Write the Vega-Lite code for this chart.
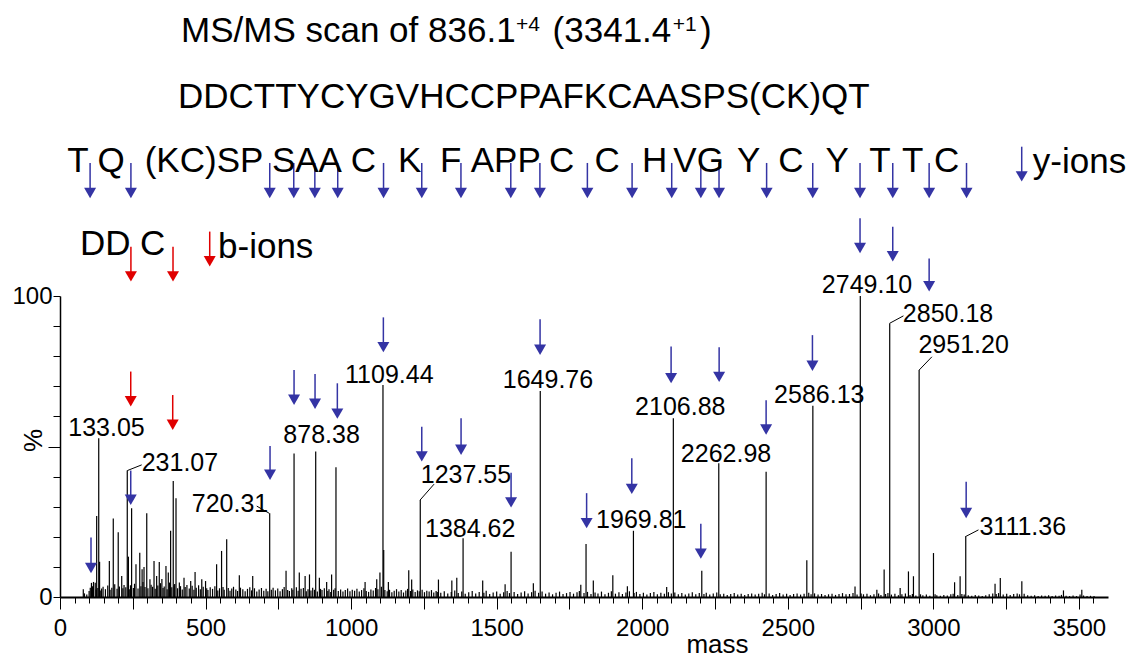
{
  "$schema": "https://vega.github.io/schema/vega-lite/v6.json",
  "width": 1048,
  "height": 301,
  "autosize": {"type": "none"},
  "padding": {"left": 60, "top": 296, "right": 21, "bottom": 63},
  "background": "white",
  "config": {"view": {"stroke": null}, "font": "Liberation Sans", "axis": {"grid": false}},
  "resolve": {"axis": {"x": "independent", "y": "independent"}},
  "datasets": {
    "peaks": [
      {"m":80,"i":2.6},{"m":108,"i":4.7},{"m":115,"i":5},{"m":121,"i":4.7},{"m":126,"i":26.9},{"m":133.05,"i":52.7},{"m":136,"i":11.7},{"m":143,"i":2.8},{"m":169.5,"i":12},{"m":183,"i":26.1},{"m":200,"i":21.5},{"m":212,"i":7},{"m":231.07,"i":42},{"m":235,"i":13.4},{"m":246,"i":29.5},{"m":261,"i":10.9},{"m":274,"i":14.7},{"m":282,"i":9.2},{"m":288.6,"i":10},{"m":298,"i":27.8},{"m":309,"i":5.9},{"m":323,"i":12},{"m":332,"i":7},{"m":341,"i":11.6},{"m":350,"i":6},{"m":364,"i":10.3},{"m":372,"i":8.1},{"m":380,"i":22},{"m":389,"i":38.5},{"m":398.5,"i":32.8},{"m":410,"i":4.8},{"m":426,"i":6.4},{"m":449,"i":5.3},{"m":464,"i":8.3},{"m":487,"i":5.9},{"m":500,"i":5.3},{"m":538,"i":10.9},{"m":555,"i":15.3},{"m":572.6,"i":19.2},{"m":616,"i":7.2},{"m":662,"i":7},{"m":720.31,"i":27.8},{"m":776.5,"i":8.7},{"m":804,"i":47.7},{"m":822,"i":8.1},{"m":842,"i":7},{"m":857,"i":7.5},{"m":878.38,"i":48.3},{"m":891,"i":6.4},{"m":916,"i":5},{"m":933,"i":7.5},{"m":948,"i":43.1},{"m":1048,"i":5},{"m":1088,"i":5.9},{"m":1099,"i":8.1},{"m":1109.44,"i":70.4},{"m":1128,"i":5},{"m":1198,"i":8.9},{"m":1208,"i":5.8},{"m":1237.55,"i":32.2},{"m":1300,"i":5.8},{"m":1346,"i":5.5},{"m":1363,"i":6.4},{"m":1384.62,"i":19.5},{"m":1452,"i":5.5},{"m":1529,"i":4.2},{"m":1549.5,"i":15},{"m":1626,"i":4.6},{"m":1649.76,"i":68.4},{"m":1789,"i":4.1},{"m":1807,"i":17.6},{"m":1832,"i":5.5},{"m":1899,"i":7.2},{"m":1949,"i":3.6},{"m":1969.81,"i":22},{"m":2084,"i":3.3},{"m":2106.88,"i":59.4},{"m":2204.6,"i":8.7},{"m":2262.98,"i":44.4},{"m":2425.6,"i":41.6},{"m":2565.4,"i":12.2},{"m":2586.13,"i":63.5},{"m":2731,"i":3.5},{"m":2749.1,"i":100},{"m":2806,"i":2.4},{"m":2831,"i":9.1},{"m":2850.18,"i":90.9},{"m":2886,"i":3},{"m":2914.5,"i":8.5},{"m":2931.7,"i":6.9},{"m":2951.2,"i":75.4},{"m":3000.5,"i":14.6},{"m":3073,"i":4.9},{"m":3092,"i":6.9},{"m":3111.36,"i":20},{"m":3212,"i":4.4},{"m":3230,"i":6.3},{"m":3304,"i":5.2},{"m":3447,"i":2.2},{"m":3510,"i":2.4},
      {"m":84,"i":1.2},{"m":92,"i":0.8},{"m":100,"i":2.0},{"m":104,"i":3.1},{"m":112,"i":3.6},{"m":124,"i":2.5},{"m":130,"i":3.0},{"m":140,"i":2.2},{"m":148,"i":3.4},{"m":156,"i":2.6},{"m":164,"i":3.8},{"m":172,"i":2.4},{"m":178,"i":3.1},{"m":188,"i":4.2},{"m":196,"i":2.7},{"m":204,"i":3.5},{"m":216,"i":2.9},{"m":220,"i":4.0},{"m":226,"i":3.2},{"m":238,"i":2.6},{"m":242,"i":3.9},{"m":252,"i":3.0},{"m":256,"i":4.4},{"m":268,"i":2.8},{"m":278,"i":3.6},{"m":285,"i":5.0},{"m":292,"i":3.3},{"m":302,"i":2.9},{"m":313,"i":4.1},{"m":318,"i":3.4},{"m":327,"i":2.7},{"m":336,"i":3.8},{"m":345,"i":4.6},{"m":354,"i":3.0},{"m":358,"i":3.5},{"m":368,"i":2.6},{"m":376,"i":4.8},{"m":384,"i":3.2},{"m":392,"i":3.9},{"m":394,"i":4.3},{"m":404,"i":2.9},{"m":414,"i":3.6},{"m":420,"i":2.5},{"m":430,"i":3.3},{"m":436,"i":4.0},{"m":444,"i":2.8},{"m":454,"i":3.7},{"m":460,"i":2.4},{"m":468,"i":3.1},{"m":476,"i":3.9},{"m":482,"i":2.6},{"m":492,"i":3.4},{"m":504,"i":2.9},{"m":508,"i":2.3},{"m":516,"i":3.2},{"m":524,"i":2.7},{"m":532,"i":3.6},{"m":542,"i":2.2},{"m":548,"i":2.9},{"m":560,"i":3.3},{"m":564,"i":2.4},{"m":578,"i":3.0},{"m":584,"i":2.1},{"m":590,"i":2.8},{"m":596,"i":3.4},{"m":604,"i":2.5},{"m":610,"i":2.0},{"m":620,"i":3.1},{"m":628,"i":2.6},{"m":636,"i":1.9},{"m":644,"i":2.7},{"m":652,"i":3.2},{"m":658,"i":2.2},{"m":668,"i":2.9},{"m":676,"i":1.8},{"m":684,"i":2.5},{"m":692,"i":3.0},{"m":700,"i":2.1},{"m":708,"i":2.7},{"m":714,"i":1.9},{"m":726,"i":2.4},{"m":732,"i":3.1},{"m":740,"i":2.2},{"m":748,"i":2.8},{"m":756,"i":1.9},{"m":764,"i":2.6},{"m":770,"i":3.3},{"m":782,"i":2.3},{"m":788,"i":2.0},{"m":796,"i":2.9},{"m":800,"i":2.4},{"m":812,"i":3.2},{"m":818,"i":2.1},{"m":828,"i":2.7},{"m":836,"i":3.0},{"m":846,"i":1.9},{"m":852,"i":2.6},{"m":862,"i":2.2},{"m":868,"i":3.1},{"m":874,"i":2.4},{"m":884,"i":1.8},{"m":895,"i":2.7},{"m":900,"i":2.3},{"m":908,"i":2.9},{"m":920,"i":2.0},{"m":924,"i":2.6},{"m":930,"i":1.7},{"m":940,"i":2.4},{"m":945,"i":2.9},{"m":956,"i":2.0},{"m":964,"i":2.5},{"m":972,"i":1.8},{"m":980,"i":2.3},{"m":988,"i":2.8},{"m":996,"i":1.9},{"m":1004,"i":2.4},{"m":1012,"i":2.1},{"m":1020,"i":2.7},{"m":1028,"i":1.8},{"m":1036,"i":2.3},{"m":1044,"i":2.9},{"m":1052,"i":2.0},{"m":1060,"i":1.7},{"m":1068,"i":2.5},{"m":1076,"i":2.2},{"m":1084,"i":3.0},{"m":1092,"i":2.6},{"m":1104,"i":3.4},{"m":1112,"i":15.6},{"m":1116,"i":2.3},{"m":1124,"i":1.9},{"m":1132,"i":2.4},{"m":1140,"i":1.6},{"m":1148,"i":2.1},{"m":1156,"i":2.6},{"m":1164,"i":1.8},{"m":1172,"i":2.3},{"m":1180,"i":1.5},{"m":1188,"i":2.2},{"m":1194,"i":2.7},{"m":1204,"i":2.0},{"m":1212,"i":2.5},{"m":1220,"i":1.7},{"m":1228,"i":2.2},{"m":1234,"i":1.9},{"m":1244,"i":2.4},{"m":1252,"i":1.6},{"m":1260,"i":2.1},{"m":1268,"i":1.8},{"m":1276,"i":2.3},{"m":1284,"i":1.5},{"m":1292,"i":2.0},{"m":1296,"i":1.7},
      {"m":1308,"i":1.4},{"m":1320,"i":1.9},{"m":1332,"i":1.2},{"m":1344,"i":1.7},{"m":1356,"i":2.2},{"m":1368,"i":1.3},{"m":1380,"i":1.8},{"m":1392,"i":1.1},{"m":1404,"i":1.6},{"m":1416,"i":2.0},{"m":1428,"i":1.2},{"m":1440,"i":1.7},{"m":1456,"i":1.4},{"m":1464,"i":2.1},{"m":1476,"i":1.0},{"m":1488,"i":1.5},{"m":1500,"i":1.8},{"m":1512,"i":1.1},{"m":1524,"i":1.6},{"m":1536,"i":2.0},{"m":1544,"i":1.3},{"m":1560,"i":1.7},{"m":1572,"i":1.0},{"m":1584,"i":1.5},{"m":1596,"i":1.9},{"m":1608,"i":1.2},{"m":1620,"i":1.6},{"m":1632,"i":2.1},{"m":1644,"i":1.4},{"m":1656,"i":1.8},{"m":1668,"i":1.1},{"m":1680,"i":1.5},{"m":1692,"i":0.9},{"m":1704,"i":1.4},{"m":1716,"i":1.8},{"m":1728,"i":1.0},{"m":1740,"i":1.3},{"m":1752,"i":1.7},{"m":1764,"i":1.1},{"m":1776,"i":1.6},{"m":1784,"i":2.0},{"m":1800,"i":1.3},{"m":1812,"i":1.7},{"m":1824,"i":1.0},{"m":1838,"i":1.5},{"m":1848,"i":1.2},{"m":1860,"i":1.8},{"m":1872,"i":0.9},{"m":1884,"i":1.4},{"m":1894,"i":1.9},{"m":1908,"i":1.1},{"m":1920,"i":1.6},{"m":1932,"i":1.0},{"m":1944,"i":1.5},{"m":1956,"i":1.9},{"m":1972,"i":1.3},{"m":1980,"i":1.7},{"m":1992,"i":1.0},{"m":2004,"i":1.4},{"m":2016,"i":0.8},{"m":2028,"i":1.3},{"m":2040,"i":1.7},{"m":2052,"i":0.9},{"m":2064,"i":1.4},{"m":2076,"i":1.1},{"m":2090,"i":1.6},{"m":2100,"i":1.2},{"m":2112,"i":1.5},{"m":2124,"i":0.9},{"m":2136,"i":1.3},{"m":2148,"i":0.8},{"m":2160,"i":1.2},{"m":2172,"i":1.6},{"m":2184,"i":0.9},{"m":2196,"i":1.3},{"m":2212,"i":1.0},{"m":2220,"i":1.4},{"m":2232,"i":0.8},{"m":2244,"i":1.2},{"m":2256,"i":1.5},{"m":2268,"i":0.9},{"m":2280,"i":1.1},{"m":2292,"i":0.7},{"m":2304,"i":1.0},{"m":2316,"i":1.3},{"m":2328,"i":0.8},{"m":2340,"i":1.1},{"m":2352,"i":0.7},{"m":2364,"i":1.0},{"m":2376,"i":1.2},{"m":2388,"i":0.8},{"m":2400,"i":1.1},{"m":2412,"i":1.4},{"m":2420,"i":0.9},{"m":2436,"i":1.2},{"m":2448,"i":0.7},{"m":2460,"i":1.0},{"m":2472,"i":1.3},{"m":2484,"i":0.8},{"m":2496,"i":1.1},{"m":2508,"i":0.7},{"m":2520,"i":1.0},{"m":2532,"i":1.2},{"m":2544,"i":0.8},{"m":2556,"i":1.1},{"m":2572,"i":1.4},{"m":2580,"i":0.9},{"m":2592,"i":1.2},{"m":2604,"i":0.8},{"m":2616,"i":1.0},{"m":2628,"i":0.7},{"m":2640,"i":0.9},{"m":2652,"i":1.1},{"m":2664,"i":0.7},{"m":2676,"i":1.0},{"m":2688,"i":1.3},{"m":2700,"i":0.9},
      {"m":2712,"i":1.0},{"m":2724,"i":1.3},{"m":2738,"i":0.8},{"m":2752,"i":1.2},{"m":2760,"i":0.9},{"m":2772,"i":1.1},{"m":2784,"i":0.6},{"m":2796,"i":0.9},{"m":2812,"i":1.2},{"m":2820,"i":0.7},{"m":2836,"i":1.0},{"m":2844,"i":1.3},{"m":2856,"i":0.8},{"m":2868,"i":1.1},{"m":2880,"i":0.6},{"m":2892,"i":0.9},{"m":2904,"i":1.2},{"m":2920,"i":0.7},{"m":2928,"i":1.0},{"m":2940,"i":0.5},{"m":2956,"i":0.9},{"m":2964,"i":0.6},{"m":2976,"i":0.8},{"m":2988,"i":0.4},{"m":3006,"i":0.9},{"m":3012,"i":0.6},{"m":3024,"i":0.4},{"m":3036,"i":0.7},{"m":3048,"i":0.5},{"m":3060,"i":0.9},{"m":3068,"i":1.1},{"m":3084,"i":0.7},{"m":3098,"i":1.0},{"m":3106,"i":0.8},{"m":3120,"i":0.6},{"m":3132,"i":0.4},{"m":3144,"i":0.7},{"m":3156,"i":0.5},{"m":3168,"i":0.3},{"m":3180,"i":0.6},{"m":3192,"i":0.9},{"m":3204,"i":1.2},{"m":3216,"i":1.0},{"m":3224,"i":1.3},{"m":3240,"i":0.8},{"m":3252,"i":1.1},{"m":3264,"i":0.7},{"m":3276,"i":1.0},{"m":3288,"i":1.2},{"m":3296,"i":0.9},{"m":3312,"i":1.1},{"m":3324,"i":0.6},{"m":3336,"i":0.4},{"m":3348,"i":0.6},{"m":3360,"i":0.3},{"m":3372,"i":0.5},{"m":3384,"i":0.4},{"m":3396,"i":0.6},{"m":3408,"i":0.3},{"m":3420,"i":0.5},{"m":3432,"i":0.4},{"m":3440,"i":0.7},{"m":3456,"i":0.4},{"m":3468,"i":0.3},{"m":3480,"i":0.5},{"m":3492,"i":0.3},{"m":3504,"i":0.8},{"m":3516,"i":0.5},{"m":3528,"i":0.3},{"m":3540,"i":0.4},{"m":3552,"i":0.3}
    ],
    "big": [
      {"x":415.7,"y":184.3,"t":"MS/MS scan of 836.1"},
      {"x":1692.1,"y":184.3,"t":"(3341.4"},
      {"x":2198.9,"y":184.3,"t":")"},
      {"x":405.4,"y":162.4,"t":"DDCTTYCYGVHCCPPAFKCAASPS(CK)QT"},
      {"x":24.7,"y":141.3,"t":"T"},
      {"x":128.5,"y":141.3,"t":"Q"},
      {"x":291,"y":141.3,"t":"(KC)SP"},
      {"x":728,"y":141.3,"t":"SAA"},
      {"x":999,"y":141.3,"t":"C"},
      {"x":1161,"y":141.3,"t":"K"},
      {"x":1305,"y":141.3,"t":"F"},
      {"x":1411,"y":141.3,"t":"APP"},
      {"x":1680,"y":141.3,"t":"C"},
      {"x":1836,"y":141.3,"t":"C"},
      {"x":1999,"y":141.3,"t":"H"},
      {"x":2107,"y":141.3,"t":"VG"},
      {"x":2326,"y":141.3,"t":"Y"},
      {"x":2467,"y":141.3,"t":"C"},
      {"x":2630,"y":141.3,"t":"Y"},
      {"x":2780,"y":141.3,"t":"T"},
      {"x":2892,"y":141.3,"t":"T"},
      {"x":3002,"y":141.3,"t":"C"},
      {"x":3341.6,"y":140.8,"t":"y-ions"},
      {"x":68.7,"y":113.6,"t":"DD"},
      {"x":274.9,"y":113.6,"t":"C"},
      {"x":542.8,"y":112.5,"t":"b-ions"}
    ],
    "sup": [
      {"x":1566.7,"y":188,"t":"+4"},
      {"x":2105,"y":188,"t":"+1"}
    ],
    "lab": [
      {"x":28.5,"y":53.5,"t":"133.05"},
      {"x":280.7,"y":42.0,"t":"231.07"},
      {"x":452.5,"y":28.3,"t":"720.31"},
      {"x":767.2,"y":51.1,"t":"878.38"},
      {"x":979.2,"y":71.0,"t":"1109.44"},
      {"x":1239.3,"y":37.8,"t":"1237.55"},
      {"x":1254,"y":20.0,"t":"1384.62"},
      {"x":1521,"y":69.3,"t":"1649.76"},
      {"x":1841.6,"y":22.8,"t":"1969.81"},
      {"x":1975.5,"y":60.5,"t":"2106.88"},
      {"x":2132.6,"y":45.0,"t":"2262.98"},
      {"x":2453.1,"y":64.6,"t":"2586.13"},
      {"x":2617,"y":101.0,"t":"2749.10"},
      {"x":2895.3,"y":91.5,"t":"2850.18"},
      {"x":2948.9,"y":81.2,"t":"2951.20"},
      {"x":3158.4,"y":20.6,"t":"3111.36"}
    ],
    "lead": [
      {"x":231.2,"y":42.0,"x2":280.7,"y2":43.9},
      {"x":675.8,"y":30.2,"x2":719,"y2":27.8},
      {"x":1236.9,"y":32.2,"x2":1285,"y2":37.5},
      {"x":2849.3,"y":90.9,"x2":2897.3,"y2":93.4},
      {"x":2951.3,"y":75.4,"x2":2995,"y2":79.8},
      {"x":3109.3,"y":20.0,"x2":3155,"y2":22.3}
    ],
    "arr": [
      {"x":103.4,"top":144.2,"tip":131.9,"c":"b"},
      {"x":243.6,"top":144.2,"tip":131.9,"c":"b"},
      {"x":720.5,"top":144.2,"tip":131.9,"c":"b"},
      {"x":803,"top":144.2,"tip":131.9,"c":"b"},
      {"x":875.4,"top":144.2,"tip":131.9,"c":"b"},
      {"x":954,"top":144.2,"tip":131.9,"c":"b"},
      {"x":1111.4,"top":144.2,"tip":131.9,"c":"b"},
      {"x":1242.7,"top":144.2,"tip":131.9,"c":"b"},
      {"x":1377.3,"top":144.2,"tip":131.9,"c":"b"},
      {"x":1548.5,"top":144.2,"tip":131.9,"c":"b"},
      {"x":1648.5,"top":144.2,"tip":131.9,"c":"b"},
      {"x":1811.6,"top":144.2,"tip":131.9,"c":"b"},
      {"x":1965.2,"top":144.2,"tip":131.9,"c":"b"},
      {"x":2101.3,"top":144.2,"tip":131.9,"c":"b"},
      {"x":2201.3,"top":144.2,"tip":131.9,"c":"b"},
      {"x":2263.8,"top":144.2,"tip":131.9,"c":"b"},
      {"x":2427.3,"top":144.2,"tip":131.9,"c":"b"},
      {"x":2585.7,"top":144.2,"tip":131.9,"c":"b"},
      {"x":2748.2,"top":144.2,"tip":131.9,"c":"b"},
      {"x":2860.6,"top":144.2,"tip":131.9,"c":"b"},
      {"x":2985.6,"top":144.2,"tip":131.9,"c":"b"},
      {"x":3114,"top":144.2,"tip":131.9,"c":"b"},
      {"x":3303.6,"top":149.6,"tip":137.4,"c":"b"},
      {"x":2748.2,"top":125.8,"tip":113.6,"c":"b"},
      {"x":2860.6,"top":123.0,"tip":110.9,"c":"b"},
      {"x":2985.6,"top":112.5,"tip":100.9,"c":"b"},
      {"x":243.6,"top":116.4,"tip":104.2,"c":"r"},
      {"x":388.2,"top":116.4,"tip":104.2,"c":"r"},
      {"x":514.3,"top":121.4,"tip":109.2,"c":"r"},
      {"x":243,"top":74.9,"tip":62.7,"c":"r"},
      {"x":387.2,"top":67.1,"tip":54.9,"c":"r"},
      {"x":106.5,"top":19.8,"tip":7.3,"c":"b"},
      {"x":243,"top":42.0,"tip":30.0,"c":"b"},
      {"x":721.5,"top":50.2,"tip":38.3,"c":"b"},
      {"x":804,"top":75.4,"tip":63.2,"c":"b"},
      {"x":876.1,"top":74.1,"tip":61.9,"c":"b"},
      {"x":952.7,"top":71.0,"tip":58.6,"c":"b"},
      {"x":1110.8,"top":92.9,"tip":80.7,"c":"b"},
      {"x":1242.7,"top":56.6,"tip":44.4,"c":"b"},
      {"x":1377.7,"top":59.4,"tip":46.6,"c":"b"},
      {"x":1549.5,"top":41.3,"tip":29.1,"c":"b"},
      {"x":1649.1,"top":92.3,"tip":79.8,"c":"b"},
      {"x":1809,"top":34.5,"tip":22.2,"c":"b"},
      {"x":1964.2,"top":46.1,"tip":33.6,"c":"b"},
      {"x":2099.2,"top":83.2,"tip":70.4,"c":"b"},
      {"x":2201.3,"top":24.3,"tip":12.1,"c":"b"},
      {"x":2264.2,"top":83.0,"tip":70.8,"c":"b"},
      {"x":2425.6,"top":65.4,"tip":53.3,"c":"b"},
      {"x":2584.7,"top":87.0,"tip":74.5,"c":"b"},
      {"x":3112.8,"top":38.3,"tip":25.6,"c":"b"}
    ]
  },
  "layer": [
    {
      "data": {"name": "peaks"},
      "mark": {"type": "rule", "color": "black", "strokeWidth": 1.2},
      "encoding": {
        "x": {
          "field": "m", "type": "quantitative",
          "scale": {"domain": [0, 3600], "nice": false, "zero": false},
          "axis": {
            "orient": "bottom",
            "values": [0,50,100,150,200,250,300,350,400,450,500,550,600,650,700,750,800,850,900,950,1000,1050,1100,1150,1200,1250,1300,1350,1400,1450,1500,1550,1600,1650,1700,1750,1800,1850,1900,1950,2000,2050,2100,2150,2200,2250,2300,2350,2400,2450,2500,2550,2600,2650,2700,2750,2800,2850,2900,2950,3000,3050,3100,3150,3200,3250,3300,3350,3400,3450,3500,3550],
            "labelExpr": "datum.value % 500 === 0 ? format(datum.value, 'd') : ''",
            "labelOverlap": false,
            "labelFlush": false,
            "labelFont": "Liberation Sans",
            "labelFontSize": 24,
            "labelColor": "black",
            "labelPadding": 7,
            "tickSize": {"condition": {"test": "datum.value % 250 === 0", "value": 12}, "value": 6},
            "tickColor": "black",
            "tickWidth": 1,
            "domainColor": "black",
            "domainWidth": 2,
            "title": "mass",
            "titleFont": "Liberation Sans",
            "titleFontSize": 26,
            "titleFontWeight": "normal",
            "titleColor": "black",
            "titleX": 657,
            "titleY": 55,
            "titleAlign": "center",
            "titleBaseline": "alphabetic"
          }
        },
        "y": {
          "field": "i", "type": "quantitative",
          "scale": {"domain": [0, 100], "nice": false},
          "axis": {
            "orient": "left",
            "values": [0,10,20,30,40,50,60,70,80,90,100],
            "labelExpr": "datum.value === 0 || datum.value === 100 ? format(datum.value, 'd') : ''",
            "labelOverlap": false,
            "labelFlush": false,
            "labelFont": "Liberation Sans",
            "labelFontSize": 24,
            "labelColor": "black",
            "labelPadding": 1,
            "tickSize": {"condition": {"test": "datum.value === 50", "value": 12}, "value": 7},
            "tickColor": "black",
            "tickWidth": 1,
            "domainColor": "black",
            "domainWidth": 1.5,
            "title": "%",
            "titleFont": "Liberation Sans",
            "titleFontSize": 26,
            "titleFontWeight": "normal",
            "titleColor": "black",
            "titleAngle": 270,
            "titleX": -27,
            "titleY": 144,
            "titleAlign": "center",
            "titleBaseline": "middle"
          }
        },
        "y2": {"datum": 0}
      }
    },
    {
      "data": {"name": "lead"},
      "mark": {"type": "rule", "color": "black", "strokeWidth": 1},
      "encoding": {
        "x": {"field": "x", "type": "quantitative", "axis": null},
        "x2": {"field": "x2"},
        "y": {"field": "y", "type": "quantitative", "axis": null},
        "y2": {"field": "y2"}
      }
    },
    {
      "data": {"name": "arr"},
      "mark": {"type": "rule", "strokeWidth": 1.5, "y2Offset": -8},
      "encoding": {
        "x": {"field": "x", "type": "quantitative", "axis": null},
        "y": {"field": "top", "type": "quantitative", "axis": null},
        "y2": {"field": "tip"},
        "color": {"field": "c", "type": "nominal", "scale": {"domain": ["b", "r"], "range": ["#3434a4", "#e00000"]}, "legend": null}
      }
    },
    {
      "data": {"name": "arr"},
      "mark": {"type": "point", "shape": "triangle-down", "filled": true, "opacity": 1, "size": 144, "yOffset": -7, "strokeWidth": 0},
      "encoding": {
        "x": {"field": "x", "type": "quantitative", "axis": null},
        "y": {"field": "tip", "type": "quantitative", "axis": null},
        "color": {"field": "c", "type": "nominal", "scale": {"domain": ["b", "r"], "range": ["#3434a4", "#e00000"]}, "legend": null}
      }
    },
    {
      "data": {"name": "lab"},
      "mark": {"type": "text", "align": "left", "baseline": "alphabetic", "fontSize": 25, "font": "Liberation Sans", "color": "black"},
      "encoding": {
        "x": {"field": "x", "type": "quantitative", "axis": null},
        "y": {"field": "y", "type": "quantitative", "axis": null},
        "text": {"field": "t"}
      }
    },
    {
      "data": {"name": "big"},
      "mark": {"type": "text", "align": "left", "baseline": "alphabetic", "fontSize": 35, "font": "Liberation Sans", "color": "black"},
      "encoding": {
        "x": {"field": "x", "type": "quantitative", "axis": null},
        "y": {"field": "y", "type": "quantitative", "axis": null},
        "text": {"field": "t"}
      }
    },
    {
      "data": {"name": "sup"},
      "mark": {"type": "text", "align": "left", "baseline": "alphabetic", "fontSize": 21, "font": "Liberation Sans", "color": "black"},
      "encoding": {
        "x": {"field": "x", "type": "quantitative", "axis": null},
        "y": {"field": "y", "type": "quantitative", "axis": null},
        "text": {"field": "t"}
      }
    }
  ]
}
